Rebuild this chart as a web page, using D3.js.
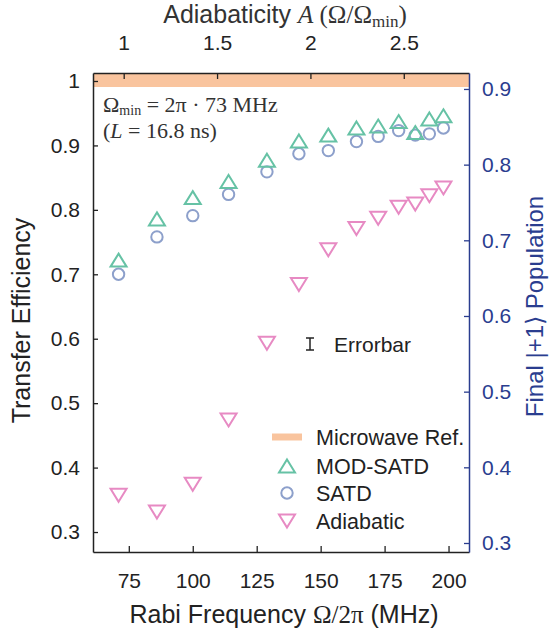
<!DOCTYPE html>
<html><head><meta charset="utf-8">
<script src="https://cdn.jsdelivr.net/npm/d3@7"></script>
<style>body{margin:0;background:#fff} svg{display:block}</style>
</head><body>
<svg id="chart" width="550" height="632"></svg>
<script>
// ---- data ----
const rabiFreq   = [71, 86, 100, 114, 129, 141.5, 153, 164, 172.5, 180.5, 187, 192.5, 198];
const modSatd    = [0.722, 0.786, 0.819, 0.844, 0.877, 0.907, 0.916, 0.927, 0.930, 0.937, 0.920, 0.941, 0.946];
const satd       = [0.700, 0.758, 0.791, 0.824, 0.859, 0.887, 0.892, 0.906, 0.914, 0.923, 0.916, 0.918, 0.927];
const adiabatic  = [0.357, 0.331, 0.374, 0.474, 0.593, 0.684, 0.738, 0.771, 0.787, 0.804, 0.809, 0.822, 0.834];
const microwaveRef = 1.0;
const omegaMin = 73;
const bottomTicks = [75, 100, 125, 150, 175, 200];
const topTicks    = [1, 1.5, 2, 2.5];
const leftTicks   = [0.3, 0.4, 0.5, 0.6, 0.7, 0.8, 0.9, 1];
const rightTicks  = [0.3, 0.4, 0.5, 0.6, 0.7, 0.8, 0.9];
const seriesNames = ["Microwave Ref.", "MOD-SATD", "SATD", "Adiabatic"];

// ---- layout ----
const SANS = "'Liberation Sans', Arial, Helvetica, sans-serif";
const SERIF = "'Liberation Serif', 'Times New Roman', serif";
const FS = 21, TFS = 25;
const C = {orange:"#f9c49e", green:"#66c2a5", blue:"#8da0cb", pink:"#e78ac3", axisBlue:"#2a3d8f", ink:"#222"};
const P = {l:93, r:469, t:73, b:552};

const svg = d3.select("#chart");
const x  = d3.scaleLinear().domain([61, 208]).range([P.l, P.r]);
const xTop = d3.scaleLinear().domain([61/omegaMin, 208/omegaMin]).range([P.l, P.r]);
const y  = d3.scaleLinear().domain([0.269, 1.0124]).range([P.b, P.t]);
const yR = d3.scaleLinear().domain([0.2881, 0.9211]).range([P.b, P.t]);

// microwave reference band
svg.append("rect")
  .attr("x", P.l).attr("width", P.r - P.l)
  .attr("y", y(microwaveRef) - 7).attr("height", 13)
  .attr("fill", C.orange);

function styleAxis(g, color){
  g.selectAll("path.domain").attr("stroke", color).attr("stroke-width", 1.5);
  g.selectAll(".tick line").attr("stroke", color).attr("stroke-width", 1.3);
  g.selectAll(".tick text").attr("fill", color).attr("font-size", FS).attr("font-family", SANS);
}

const gB = svg.append("g").attr("transform", `translate(0,${P.b})`)
  .call(d3.axisBottom(x).tickValues(bottomTicks).tickFormat(d => String(d))
        .tickSizeInner(-6).tickSizeOuter(0).tickPadding(21));
styleAxis(gB, C.ink);

const gT = svg.append("g").attr("transform", `translate(0,${P.t})`)
  .call(d3.axisTop(xTop).tickValues(topTicks).tickFormat(d => String(d))
        .tickSizeInner(-6).tickSizeOuter(0).tickPadding(23));
styleAxis(gT, C.ink);

const gL = svg.append("g").attr("transform", `translate(${P.l},0)`)
  .call(d3.axisLeft(y).tickValues(leftTicks).tickFormat(d => String(d))
        .tickSizeInner(-5).tickSizeOuter(0).tickPadding(13));
styleAxis(gL, C.ink);

const gR = svg.append("g").attr("transform", `translate(${P.r},0)`)
  .call(d3.axisRight(yR).tickValues(rightTicks).tickFormat(d => String(d))
        .tickSizeInner(-5).tickSizeOuter(0).tickPadding(13));
styleAxis(gR, C.axisBlue);

// markers
const triUp = "M0,-6.5L8,6.5L-8,6.5Z";
const triDown = "M0,6.5L8,-6.5L-8,-6.5Z";
const pts = (arr) => arr.map((v, i) => ({x: rabiFreq[i], y: v}));

svg.append("g").selectAll("circle").data(pts(satd)).join("circle")
  .attr("cx", d => x(d.x)).attr("cy", d => y(d.y)).attr("r", 5.7)
  .attr("fill", "none").attr("stroke", C.blue).attr("stroke-width", 2);

svg.append("g").selectAll("path").data(pts(modSatd)).join("path")
  .attr("d", triUp).attr("transform", d => `translate(${x(d.x)},${y(d.y)})`)
  .attr("fill", "none").attr("stroke", C.green).attr("stroke-width", 2);

svg.append("g").selectAll("path").data(pts(adiabatic)).join("path")
  .attr("d", triDown).attr("transform", d => `translate(${x(d.x)},${y(d.y)})`)
  .attr("fill", "none").attr("stroke", C.pink).attr("stroke-width", 2);

// errorbar annotation
const eb = svg.append("g").attr("stroke", C.ink).attr("stroke-width", 1.5);
eb.append("line").attr("x1", 310).attr("x2", 310).attr("y1", 338).attr("y2", 350);
eb.append("line").attr("x1", 306).attr("x2", 314).attr("y1", 338).attr("y2", 338);
eb.append("line").attr("x1", 306).attr("x2", 314).attr("y1", 350).attr("y2", 350);
svg.append("text").attr("x", 334).attr("y", 352).attr("font-family", SANS).attr("font-size", FS)
  .attr("fill", C.ink).text("Errorbar");

// legend
const lg = svg.append("g");
const lx = 287, lrows = [437, 466, 493, 521];
lg.append("line").attr("x1", lx - 15).attr("x2", lx + 15).attr("y1", lrows[0]).attr("y2", lrows[0])
  .attr("stroke", C.orange).attr("stroke-width", 7);
lg.append("path").attr("d", triUp).attr("transform", `translate(${lx},${lrows[1]})`)
  .attr("fill", "none").attr("stroke", C.green).attr("stroke-width", 2);
lg.append("circle").attr("cx", lx).attr("cy", lrows[2]).attr("r", 5.7)
  .attr("fill", "none").attr("stroke", C.blue).attr("stroke-width", 2);
lg.append("path").attr("d", triDown).attr("transform", `translate(${lx},${lrows[3]})`)
  .attr("fill", "none").attr("stroke", C.pink).attr("stroke-width", 2);
lg.selectAll("text").data(seriesNames).join("text")
  .attr("x", 316).attr("y", (d, i) => lrows[i] + 7.5)
  .attr("font-family", SANS).attr("font-size", 21.5).attr("fill", C.ink).text(d => d);

// annotation
const a1 = svg.append("text").attr("x", 103).attr("y", 112).attr("font-family", SERIF)
  .attr("font-size", 22).attr("fill", "#333");
a1.append("tspan").text("Ω");
a1.append("tspan").attr("font-size", 14).attr("dy", 3).text("min");
a1.append("tspan").attr("dy", -3).text(" = 2π · 73 MHz");
const a2 = svg.append("text").attr("x", 103).attr("y", 138).attr("font-family", SERIF)
  .attr("font-size", 22).attr("fill", "#333");
a2.append("tspan").text("(");
a2.append("tspan").attr("font-style", "italic").text("L");
a2.append("tspan").text(" = 16.8 ns)");

// axis titles
const xt = svg.append("text").attr("x", (P.l + P.r) / 2 + 3).attr("y", 623).attr("text-anchor", "middle")
  .attr("font-family", SANS).attr("font-size", TFS).attr("fill", C.ink);
xt.append("tspan").text("Rabi Frequency ");
xt.append("tspan").attr("font-family", SERIF).text("Ω/2π");
xt.append("tspan").text(" (MHz)");

const tt = svg.append("text").attr("x", (P.l + P.r) / 2 + 4).attr("y", 23).attr("text-anchor", "middle")
  .attr("font-family", SANS).attr("font-size", TFS).attr("fill", "#333");
tt.append("tspan").text("Adiabaticity ");
tt.append("tspan").attr("font-family", SERIF).attr("font-style", "italic").text("A");
tt.append("tspan").attr("font-family", SERIF).text(" (Ω/Ω");
tt.append("tspan").attr("font-family", SERIF).attr("font-size", 17).attr("dy", 4).text("min");
tt.append("tspan").attr("font-family", SERIF).attr("dy", -4).text(")");

svg.append("text").attr("transform", `translate(30,${(P.t + P.b) / 2 + 8}) rotate(-90)`)
  .attr("text-anchor", "middle").attr("font-family", SANS).attr("font-size", TFS).attr("fill", C.ink)
  .text("Transfer Efficiency");

svg.append("text").attr("transform", `translate(543,${(P.t + P.b) / 2 - 6}) rotate(-90)`)
  .attr("text-anchor", "middle").attr("font-family", SANS).attr("font-size", 24).attr("fill", C.axisBlue)
  .text("Final |+1⟩ Population");
</script>
</body></html>
